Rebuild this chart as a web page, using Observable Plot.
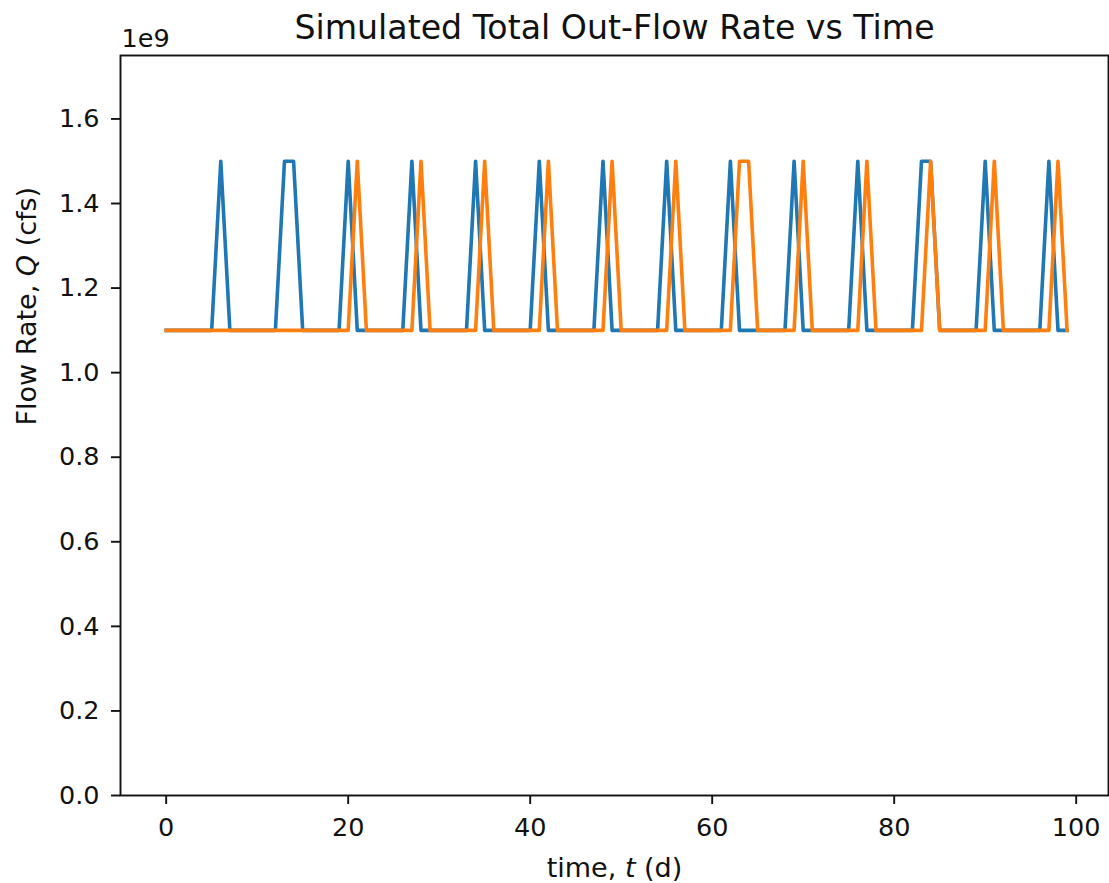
<!DOCTYPE html>
<html>
<head>
<meta charset="utf-8">
<script src="https://cdn.jsdelivr.net/npm/d3@7"></script>
<script src="https://cdn.jsdelivr.net/npm/@observablehq/plot@0.6"></script>
<style>
  html, body { margin: 0; padding: 0; background: #fff; overflow: hidden; }
  #chart svg { display: block; }
</style>
</head>
<body>
<div id="chart"></div>
<script>
// Time, days
const days = d3.range(0, 100);
// Flow rate values in units of 1e9 cfs
const seriesBlue = [
  1.1,1.1,1.1,1.1,1.1,1.1,1.5,1.1,1.1,1.1,
  1.1,1.1,1.1,1.5,1.5,1.1,1.1,1.1,1.1,1.1,
  1.5,1.1,1.1,1.1,1.1,1.1,1.1,1.5,1.1,1.1,
  1.1,1.1,1.1,1.1,1.5,1.1,1.1,1.1,1.1,1.1,
  1.1,1.5,1.1,1.1,1.1,1.1,1.1,1.1,1.5,1.1,
  1.1,1.1,1.1,1.1,1.1,1.5,1.1,1.1,1.1,1.1,
  1.1,1.1,1.5,1.1,1.1,1.1,1.1,1.1,1.1,1.5,
  1.1,1.1,1.1,1.1,1.1,1.1,1.5,1.1,1.1,1.1,
  1.1,1.1,1.1,1.5,1.5,1.1,1.1,1.1,1.1,1.1,
  1.5,1.1,1.1,1.1,1.1,1.1,1.1,1.5,1.1,1.1
];
const seriesOrange = [
  1.1,1.1,1.1,1.1,1.1,1.1,1.1,1.1,1.1,1.1,
  1.1,1.1,1.1,1.1,1.1,1.1,1.1,1.1,1.1,1.1,
  1.1,1.5,1.1,1.1,1.1,1.1,1.1,1.1,1.5,1.1,
  1.1,1.1,1.1,1.1,1.1,1.5,1.1,1.1,1.1,1.1,
  1.1,1.1,1.5,1.1,1.1,1.1,1.1,1.1,1.1,1.5,
  1.1,1.1,1.1,1.1,1.1,1.1,1.5,1.1,1.1,1.1,
  1.1,1.1,1.1,1.5,1.5,1.1,1.1,1.1,1.1,1.1,
  1.5,1.1,1.1,1.1,1.1,1.1,1.1,1.5,1.1,1.1,
  1.1,1.1,1.1,1.1,1.5,1.1,1.1,1.1,1.1,1.1,
  1.1,1.5,1.1,1.1,1.1,1.1,1.1,1.1,1.5,1.1
];
const xTicks = [0, 20, 40, 60, 80, 100];
const yTicks = [0.0, 0.2, 0.4, 0.6, 0.8, 1.0, 1.2, 1.4, 1.6];
const titleText = "Simulated Total Out-Flow Rate vs Time";
const xLabel = "time, t (d)";
const yLabel = "Flow Rate, Q (cfs)";
const offsetText = "1e9";

const blueData = days.map((t, i) => ({t, q: seriesBlue[i]}));
const orangeData = days.map((t, i) => ({t, q: seriesOrange[i]}));

const ink = "#111";
const plot = Plot.plot({
  width: 1109,
  height: 883,
  marginLeft: 120,
  marginRight: 1,
  marginTop: 55,
  marginBottom: 88,
  style: {fontFamily: "DejaVu Sans, sans-serif", fontSize: "25.5px", color: ink, background: "#fff"},
  x: {domain: [-5.02, 103.55]},
  y: {domain: [0, 1.75]},
  marks: [
    Plot.lineY(blueData, {x: "t", y: "q", stroke: "#1f77b4", strokeWidth: 3.6, strokeLinejoin: "round", strokeLinecap: "square"}),
    Plot.lineY(orangeData, {x: "t", y: "q", stroke: "#ff7f0e", strokeWidth: 3.6, strokeLinejoin: "round", strokeLinecap: "square"}),
    Plot.frame({stroke: "#111", strokeWidth: 1.9}),
    Plot.axisX({ticks: xTicks, tickSize: 9, tickPadding: 13, tickFormat: d3.format("d"), label: null, stroke: "#111", strokeWidth: 1.9, fill: ink}),
    Plot.axisY({ticks: yTicks, tickSize: 9, tickPadding: 12, tickFormat: d3.format(".1f"), label: null, stroke: "#111", strokeWidth: 1.9, fill: ink}),
    Plot.text([titleText], {frameAnchor: "top", dy: -17, fontSize: 33.2, fill: ink, lineAnchor: "bottom"}),
    Plot.text([offsetText], {frameAnchor: "top-left", dy: -9, dx: 1, textAnchor: "start", lineAnchor: "bottom", fontSize: 25.5, fill: ink}),
    Plot.text([xLabel], {frameAnchor: "bottom", dy: 81, lineAnchor: "bottom", fontSize: 27, fill: ink}),
    Plot.text([yLabel], {frameAnchor: "left", dx: -85, rotate: -90, lineAnchor: "bottom", fontSize: 27, fill: ink})
  ]
});
document.getElementById("chart").appendChild(plot);

// italicize the math symbols in the axis labels
function italicize(label, sym) {
  d3.select(plot).selectAll("text").each(function() {
    if (this.textContent === label) {
      const k = label.lastIndexOf(sym);
      const el = d3.select(this);
      el.text(null);
      el.append("tspan").text(label.slice(0, k));
      el.append("tspan").attr("font-style", "italic").text(sym);
      el.append("tspan").text(label.slice(k + sym.length));
    }
  });
}
italicize(xLabel, "t");
italicize(yLabel, "Q");
</script>
</body>
</html>
